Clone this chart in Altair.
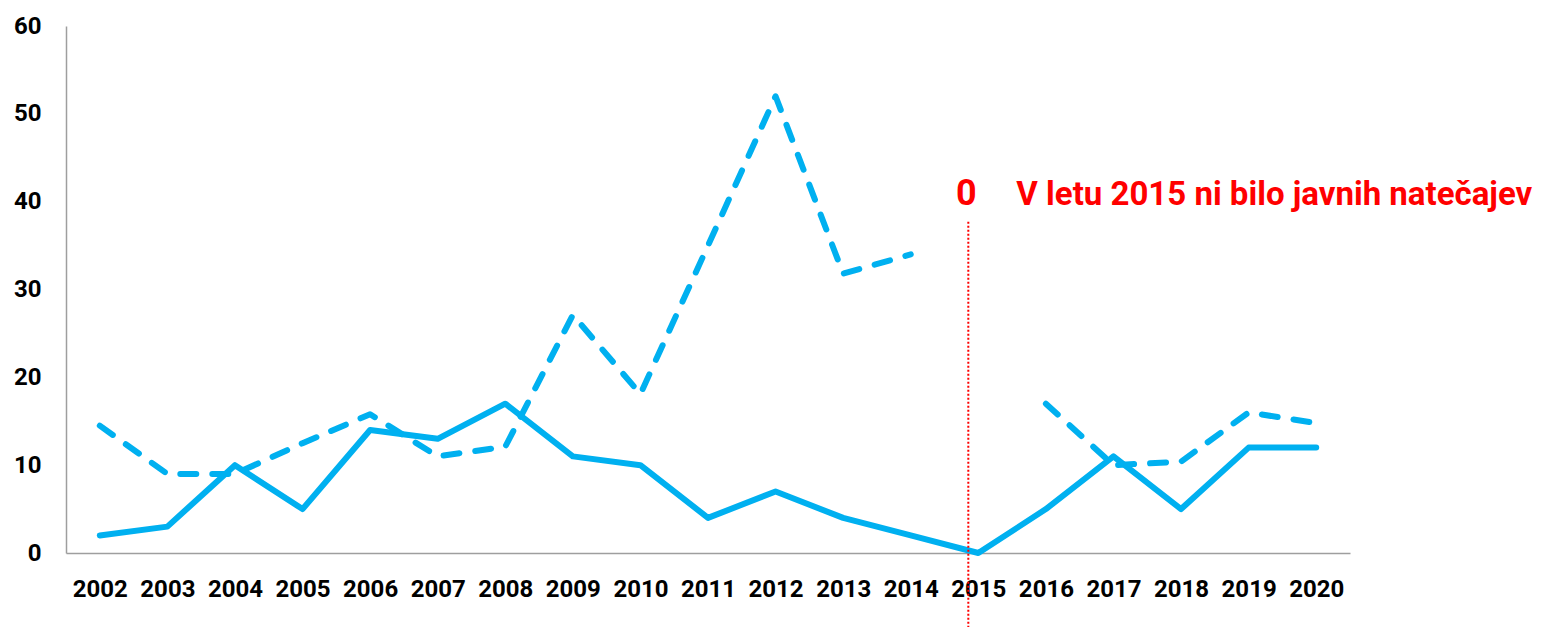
import altair as alt
import pandas as pd

# ---- data ----
years = ["2002", "2003", "2004", "2005", "2006", "2007", "2008", "2009", "2010",
         "2011", "2012", "2013", "2014", "2015", "2016", "2017", "2018", "2019", "2020"]
solid_values = [2, 3, 10, 5, 14, 13, 17, 11, 10, 4, 7, 4, 2, 0, 5, 11, 5, 12, 12]
dashed_values = [14.5, 9, 9, 12.5, 15.8, 11, 12.1, 27.1, 18.1, 35, 52, 31.8, 34,
                 None, 17, 10, 10.4, 16, 14.8]
y_ticks = [0, 10, 20, 30, 40, 50, 60]

note_year = ["2015"]
note_rule_top = [37.7]
note_zero = ["0"]
note_zero_y = [39.6]
note_text = ["V letu 2015 ni bilo javnih natečajev"]

FONT = "Roboto"
BLUE = "#00B0F0"
RED = "#FF0000"
W, H = 1284, 527

solid_df = pd.DataFrame({"year": years, "value": solid_values})

seg, cur = [], 0
for v in dashed_values:
    if v is None:
        cur += 1
    seg.append(cur)
dashed_df = pd.DataFrame({"year": years, "value": dashed_values, "segment": seg})
dashed_df = dashed_df.dropna(subset=["value"])

rule_df = pd.DataFrame({"year": note_year, "top": note_rule_top})
zero_df = pd.DataFrame({"year": note_year, "y": note_zero_y, "label": note_zero})
text_df = pd.DataFrame({"year": note_year, "y": note_zero_y, "label": note_text})

x_enc = alt.X(
    "year:O",
    sort=years,
    scale=alt.Scale(type="point", padding=0.5, domain=years),
    axis=alt.Axis(title=None, labelAngle=0, ticks=False, labelPadding=24,
                  domainColor="#9E9E9E", domainWidth=1.5),
)
y_scale = alt.Scale(domain=[0, 60], nice=False, zero=True)

solid = alt.Chart(solid_df).mark_line(
    color=BLUE, strokeWidth=6, strokeCap="round", strokeJoin="round"
).encode(
    x=x_enc,
    y=alt.Y("value:Q", scale=y_scale,
            axis=alt.Axis(title=None, values=y_ticks, grid=False, ticks=False,
                          labelPadding=25, domainColor="#9E9E9E", domainWidth=1.5)),
)

dashed = alt.Chart(dashed_df).mark_line(
    color=BLUE, strokeWidth=6, strokeCap="round", strokeJoin="round",
    strokeDash=[16, 16]
).encode(
    x=alt.X("year:O", sort=years),
    y=alt.Y("value:Q", scale=y_scale),
    detail="segment:N",
)

rule = alt.Chart(rule_df).mark_rule(
    color=RED, strokeWidth=2, strokeDash=[2, 2], xOffset=-10
).encode(
    x=alt.X("year:O", sort=years),
    y=alt.Y("top:Q", scale=y_scale),
    y2=alt.value(H + 80),
)

zero_text = alt.Chart(zero_df).mark_text(
    color=RED, font=FONT, fontWeight="bold", fontSize=36,
    align="center", baseline="alphabetic", dx=-12
).encode(
    x=alt.X("year:O", sort=years),
    y=alt.Y("y:Q", scale=y_scale),
    text="label:N",
)

note = alt.Chart(text_df).mark_text(
    color=RED, font=FONT, fontWeight="bold", fontSize=33,
    align="left", baseline="alphabetic", dx=38
).encode(
    x=alt.X("year:O", sort=years),
    y=alt.Y("y:Q", scale=y_scale),
    text="label:N",
)

chart = alt.layer(solid, dashed, rule, zero_text, note).properties(
    width=W, height=H,
    autosize=alt.AutoSizeParams(type="none"),
    padding={"left": 58, "top": 18, "right": 194, "bottom": 74},
).configure_view(stroke=None).configure_axis(
    labelFont=FONT, labelFontWeight="bold", labelFontSize=24, labelColor="#000000",
)

chart.save("out.html", embed_options={"renderer": "svg", "actions": False})
